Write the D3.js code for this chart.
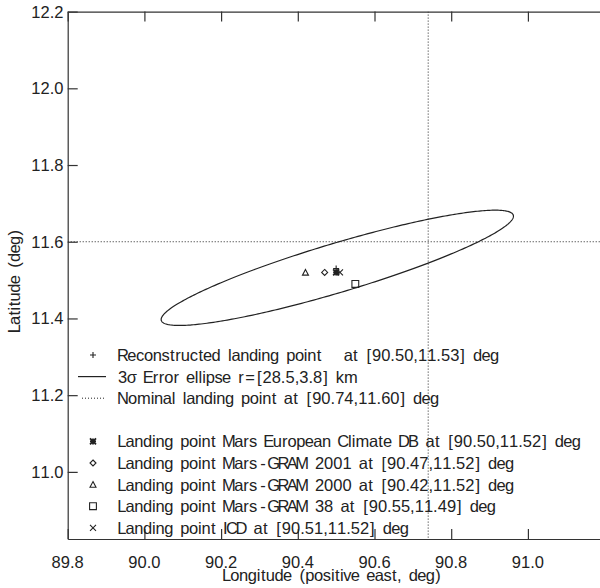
<!DOCTYPE html>
<html><head><meta charset="utf-8">
<script src="https://cdn.jsdelivr.net/npm/d3@7"></script>
<style>
html,body{margin:0;padding:0;background:#fff;}
text{font-family:"Liberation Sans",Arial,sans-serif;font-size:16.5px;fill:#222;white-space:pre;}
</style></head>
<body><svg id="c" width="600" height="588"></svg>
<script>
// ---- data ----
const xTicks = [89.8, 90.0, 90.2, 90.4, 90.6, 90.8, 91.0];
const yTicks = [11.0, 11.2, 11.4, 11.6, 11.8, 12.0, 12.2];
const xDomain = [89.8, 91.188];
const yDomain = [10.825, 12.2];

const reconstructed = [90.50, 11.53];
const nominal = [90.74, 11.60];
const ellipseCenter = [90.503, 11.532];
const ellipseSemiAxes = [0.479, 0.0639];   // deg
const ellipseAngle = 16.65;                 // deg

const landingNames = ["Mars European Climate DB", "Mars-GRAM 2001", "Mars-GRAM 2000", "Mars-GRAM 38", "ICD"];
const landingLon = [90.50, 90.47, 90.42, 90.55, 90.51];
const landingLat = [11.52, 11.52, 11.52, 11.49, 11.52];
const landingSymbols = ["asterisk", "diamond", "triangle", "square", "cross"];

const legendLabels = [
  "Reconstructed landing point   at [90.50,11.53] deg",
  "3σ Error ellipse r=[28.5,3.8] km",
  "Nominal landing point at [90.74,11.60] deg",
  "Landing point Mars European Climate DB at [90.50,11.52] deg",
  "Landing point Mars-GRAM 2001 at [90.47,11.52] deg",
  "Landing point Mars-GRAM 2000 at [90.42,11.52] deg",
  "Landing point Mars-GRAM 38 at [90.55,11.49] deg",
  "Landing point ICD at [90.51,11.52] deg"
];
const legendKinds = ["plus", "line", "dotted", "asterisk", "diamond", "triangle", "square", "cross"];
const legendRows = [0, 1, 2, 4, 5, 6, 7, 8];
const xTitle = "Longitude (positive east, deg)";
const yTitle = "Latitude (deg)";

// ---- vector-font (Hershey simplex) advance widths, used for character spacing ----
const HW = {" ":16,"(":14,")":14,"[":14,"]":14,",":10,".":10,"-":26,"=":26,":":10,
  "0":20,"1":20,"2":20,"3":20,"4":20,"5":20,"6":20,"7":20,"8":20,"9":20,
  A:18,B:21,C:21,D:21,E:19,F:18,G:21,H:22,I:8,J:16,K:21,L:17,M:24,N:22,O:22,P:21,Q:22,R:21,S:20,T:16,U:22,V:18,W:24,X:20,Y:18,Z:20,
  a:19,b:19,c:18,d:19,e:18,f:12,g:19,h:19,i:8,j:10,k:17,l:8,m:30,n:19,o:19,p:19,q:19,r:13,s:17,t:12,u:19,v:16,w:22,x:17,y:16,z:17,"σ":20};
const unit = 0.46;

// ---- layout ----
const L = 67.7, T = 11.6, B = 539, R = 600;
const svg = d3.select("#c");
const x = d3.scaleLinear().domain(xDomain).range([L, R]);
const y = d3.scaleLinear().domain(yDomain).range([B, T]);
const ink = "#222";
const fmt = d3.format(".1f");

const ctx = document.createElement("canvas").getContext("2d");
ctx.font = "16.5px 'Liberation Sans', Arial, sans-serif";

function hText(g, tx, ty, str, o = {}) {
  const chars = Array.from(str);
  let pos = 0; const xs = [];
  chars.forEach(c => {
    const cw = (HW[c] !== undefined ? HW[c] : 20) * unit;
    const gw = ctx.measureText(c).width;
    xs.push(pos + (cw - gw) / 2);
    pos += cw;
  });
  const off = o.anchor === "middle" ? -pos / 2 : o.anchor === "end" ? -pos : 0;
  return g.append("text")
    .attr("transform", `translate(${tx},${ty}) rotate(${o.rotate || 0})`)
    .attr("x", xs.map(v => (v + off).toFixed(2)).join(" "))
    .attr("dy", o.dy || 0)
    .text(str);
}

function symPath(kind, s) {
  switch (kind) {
    case "plus": return `M${-s},0H${s}M0,${-s}V${s}`;
    case "cross": return `M${-s},${-s}L${s},${s}M${-s},${s}L${s},${-s}`;
    case "diamond": return `M0,${-s}L${s},0L0,${s}L${-s},0Z`;
    case "triangle": return `M0,${-s}L${s},${s*0.9}L${-s},${s*0.9}Z`;
    case "square": return `M${-s},${-s}H${s}V${s}H${-s}Z`;
    case "asterisk": return `M${-s},0H${s}M0,${-s}V${s}M${-s},${-s}L${s},${s}M${-s},${s}L${s},${-s}`;
  }
}
function drawSym(g, kind, cx, cy) {
  const s = kind === "square" ? 3.4 : 3;
  const p = g.append("path").attr("transform", `translate(${cx},${cy})`)
    .attr("d", symPath(kind, s)).attr("fill", "none").attr("stroke", ink).attr("stroke-width", 1.1);
  if (kind === "asterisk") p.attr("stroke-width", 1.8);
}

svg.append("defs").append("clipPath").attr("id", "clip")
  .append("rect").attr("x", L).attr("y", T).attr("width", R - L).attr("height", B - T);
const inner = svg.append("g").attr("clip-path", "url(#clip)");

// nominal dotted lines
inner.append("line").attr("x1", x(nominal[0])).attr("x2", x(nominal[0]))
  .attr("y1", T).attr("y2", B).attr("stroke", ink).attr("stroke-dasharray", "1,2");
inner.append("line").attr("x1", L).attr("x2", R)
  .attr("y1", y(nominal[1])).attr("y2", y(nominal[1])).attr("stroke", ink).attr("stroke-dasharray", "1,2");

// ellipse
const th = ellipseAngle * Math.PI / 180;
const ts = d3.range(0, 360, 1).map(d => d * Math.PI / 180);
const ellPts = ts.map(t => [
  ellipseCenter[0] + ellipseSemiAxes[0] * Math.cos(t) * Math.cos(th) - ellipseSemiAxes[1] * Math.sin(t) * Math.sin(th),
  ellipseCenter[1] + ellipseSemiAxes[0] * Math.cos(t) * Math.sin(th) + ellipseSemiAxes[1] * Math.sin(t) * Math.cos(th)
]);
inner.append("path").attr("d", d3.line().x(d => x(d[0])).y(d => y(d[1])).curve(d3.curveLinearClosed)(ellPts))
  .attr("fill", "none").attr("stroke", ink).attr("stroke-width", 1.2);

// landing points
landingNames.forEach((n, i) => drawSym(inner, landingSymbols[i], x(landingLon[i]), y(landingLat[i])));
drawSym(inner, "plus", x(reconstructed[0]), y(reconstructed[1]));

// axes (lines and ticks)
const axB = d3.axisBottom(x).tickValues(xTicks).tickFormat("").tickSizeInner(-10).tickSizeOuter(0);
const axT = d3.axisTop(x).tickValues(xTicks).tickFormat("").tickSizeInner(-10).tickSizeOuter(0);
const axL = d3.axisLeft(y).tickValues(yTicks).tickFormat("").tickSizeInner(-10).tickSizeOuter(0);
const gB = svg.append("g").attr("transform", `translate(0,${B})`).call(axB);
const gT = svg.append("g").attr("transform", `translate(0,${T})`).call(axT);
const gL = svg.append("g").attr("transform", `translate(${L},0)`).call(axL);
[gB, gT, gL].forEach(g => {
  g.selectAll("path.domain").attr("stroke", "#333").attr("stroke-width", 1.2);
  g.selectAll(".tick line").attr("stroke", "#333").attr("stroke-width", 1.2);
});

// tick labels
const tl = svg.append("g");
xTicks.forEach(v => hText(tl, x(v), 568, fmt(v), { anchor: "middle" }));
yTicks.forEach(v => hText(tl, 63.5, y(v), fmt(v), { anchor: "end", dy: "0.36em" }));

// axis titles
hText(svg, 332, 581, xTitle, { anchor: "middle" });
hText(svg, 20, 281, yTitle, { anchor: "middle", rotate: -90 });

// legend
const lg = svg.append("g");
legendLabels.forEach((lab, i) => {
  const ly = 355 + legendRows[i] * 21.6;
  const k = legendKinds[i];
  if (k === "line") lg.append("line").attr("x1", 78).attr("x2", 106).attr("y1", ly).attr("y2", ly).attr("stroke", ink).attr("stroke-width", 1.2);
  else if (k === "dotted") lg.append("line").attr("x1", 82).attr("x2", 104).attr("y1", ly).attr("y2", ly).attr("stroke", ink).attr("stroke-dasharray", "1,2");
  else drawSym(lg, k, 93, ly);
  hText(lg, 118, ly, lab, { dy: "0.36em" });
});
</script></body></html>
